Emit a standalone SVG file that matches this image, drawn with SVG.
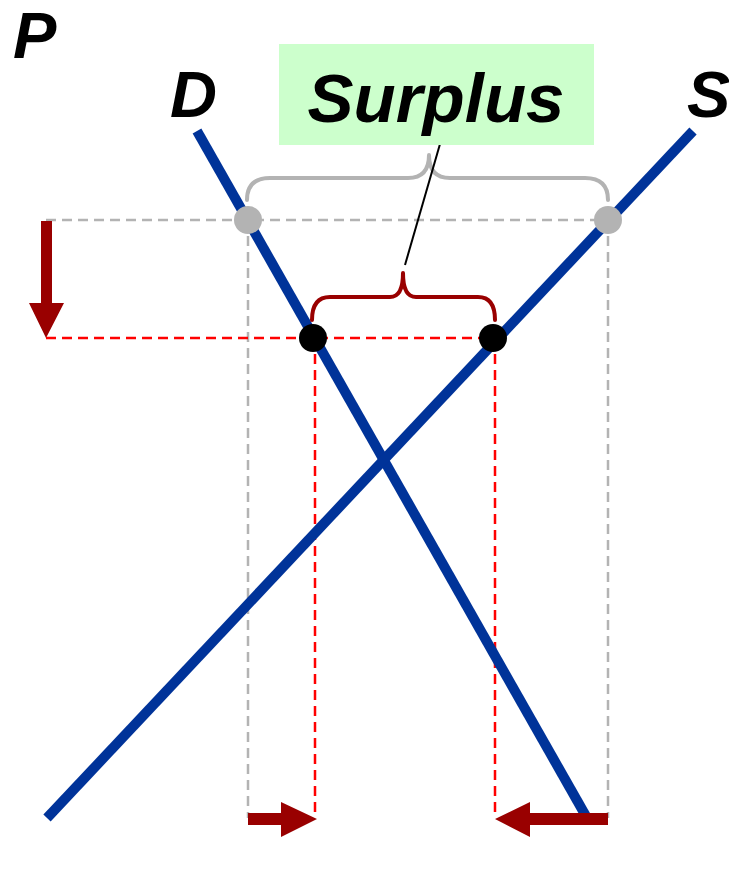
<svg xmlns="http://www.w3.org/2000/svg" width="729" height="873" viewBox="0 0 729 873">
<style>
.lbl{font-family:"Liberation Sans",Arial,sans-serif;font-weight:bold;font-style:italic;fill:#000}
.curve{stroke:#003399;stroke-width:10;fill:none}
.gdash{stroke:#b3b3b3;stroke-width:2.5;stroke-dasharray:10,6;fill:none}
.rdash{stroke:#ff0000;stroke-width:2.5;stroke-dasharray:10,6;fill:none}
.brace{fill:none;stroke-width:4;stroke-linecap:round;stroke-linejoin:round}
.arrow{fill:#990000}
</style>
<rect width="729" height="873" fill="#fff"/>
<g id="guides">
<path class="gdash" d="M46,220 H608 M248,220 V818 M608,220 V818"/>
<path class="rdash" d="M46,338 H493 M315,338 V818 M495,338 V818"/>
</g>
<g id="connectors">
<path class="curve" d="M197,131 L587,818"/>
<path class="curve" d="M47,818 L693,131"/>
<path class="brace" stroke="#b3b3b3" d="M247,200 Q247,178 270,178 H408 Q429,178 429,155 Q429,178 450,178 H585 Q608,178 608,200"/>
<path class="brace" stroke="#990000" d="M312,320 Q312,297 330,297 H390 Q403,297 403,273 Q403,297 416,297 H478 Q495,297 495,320"/>
<path d="M405,265 L440,144" stroke="#000" stroke-width="2"/>
</g>
<g id="arrows">
<path class="arrow" d="M41,221 H52 V303 H64 L46,338 L29,303 H41 Z"/>
<path class="arrow" d="M248,813 H281 V802 L317,819 L281,837 V825 H248 Z"/>
<path class="arrow" d="M608,813 H530 V802 L495,819 L530,837 V825 H608 Z"/>
</g>
<g id="points">
<circle cx="248" cy="220" r="14" fill="#b3b3b3"/>
<circle cx="608" cy="220" r="14" fill="#b3b3b3"/>
<circle cx="313" cy="338" r="14" fill="#000"/>
<circle cx="493" cy="338" r="14" fill="#000"/>
</g>
<g id="surplus">
<rect x="279" y="44" width="315" height="101" fill="#ccffcc"/>
<text class="lbl" x="436" y="122" font-size="69" text-anchor="middle">Surplus</text>
</g>
<g id="labels">
<text class="lbl" x="13" y="58" font-size="65">P</text>
<text class="lbl" x="170" y="117" font-size="65">D</text>
<text class="lbl" x="687" y="117" font-size="65">S</text>
</g>
</svg>
